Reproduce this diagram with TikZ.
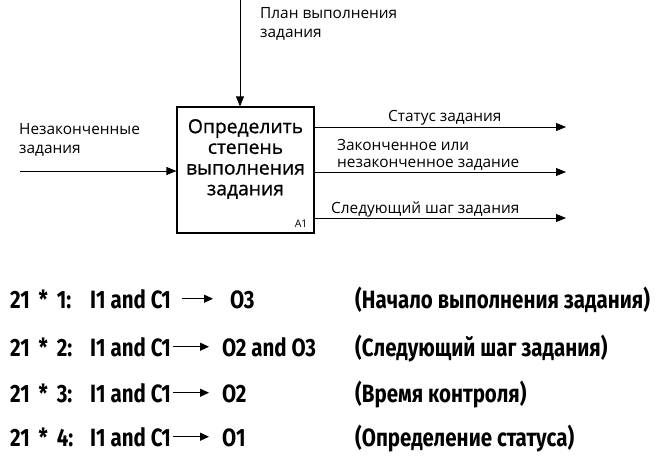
\documentclass[tikz,border=0pt]{standalone}
\usepackage{fontspec}
\setmainfont{Open Sans}
\newfontfamily\boxfont[FakeBold=0.8]{Open Sans}
\newfontfamily\hand[FakeStretch=0.82]{Fira Sans}
\usetikzlibrary{arrows.meta}
\tikzset{
  flow/.style={line width=0.8pt,-{Triangle[length=10pt,width=8pt]}},
  lbl/.style={font=\fontsize{15.4}{18}\selectfont,inner sep=0pt,anchor=base west},
  hrow/.style={font=\hand\bfseries\fontsize{25}{28}\selectfont,inner sep=0pt,anchor=base west},
  harrow/.style={line width=1.2pt,-{Triangle[length=9pt,width=8pt]}},
}
\begin{document}
\begin{tikzpicture}[x=1pt,y=-1pt]
\useasboundingbox (0,0) rectangle (661,455);
% function box
\node[draw,line width=1.2pt,minimum width=137pt,minimum height=126pt,inner sep=0pt] (box) at (245.5,170) {};
\node[font=\boxfont\fontsize{19.3}{20.7}\selectfont,align=center,inner sep=0pt] (boxt) at (245.5,159) {Определить\\степень\\выполнения\\задания};
\node[font=\fontsize{10.5}{12}\selectfont,inner sep=0pt,anchor=south east] (a1) at ([shift={(-7pt,6pt)}]box.south east) {A1};
% control
\coordinate (ctop) at (240,0);
\draw[flow] (ctop) -- (box.north -| ctop);
\node[lbl] (cl) at (260,19) {План выполнения};
\node[lbl] (cl2) at (260,37) {задания};
% input
\coordinate (iin) at (20,171);
\draw[flow] (iin) -- (box.west |- iin);
\node[lbl] (il) at (19,134) {Незаконченные};
\node[lbl] (il2) at (19,153) {задания};
% outputs
\coordinate (o1) at (566,127);
\coordinate (o2) at (566,172);
\coordinate (o3) at (566,218);
\draw[flow] (box.east |- o1) -- (o1);
\draw[flow] (box.east |- o2) -- (o2);
\draw[flow] (box.east |- o3) -- (o3);
\node[lbl] (ol1) at (388,121) {Статус задания};
\node[lbl] (ol2) at (337,150) {Законченное или};
\node[lbl] (ol2b) at (337,167) {незаконченное задание};
\node[lbl] (ol3) at (331,213) {Следующий шаг задания};
% rules
\node[hrow] (r1a) at (10,308) {21\hspace{4pt} *\hspace{4pt} 1:};
\node[hrow] (r1b) at (90,308) {I1 and C1};
\node[hrow] (r1c) at (230,308) {O3};
\node[hrow] (r1d) at (355,308) {(Начало выполнения задания)};
\draw[harrow,shorten <=11pt,shorten >=17pt] (r1b.east) -- (r1c.west |- r1b.east);

\node[hrow] (r2a) at (10,356) {21\hspace{4pt} *\hspace{4pt} 2:};
\node[hrow] (r2b) at (90,356) {I1 and C1};
\node[hrow] (r2c) at (222,356) {O2 and O3};
\node[hrow] (r2d) at (355,356) {(Следующий шаг задания)};
\draw[harrow,shorten <=2pt,shorten >=13pt] (r2b.east) -- (r2c.west |- r2b.east);

\node[hrow] (r3a) at (10,402) {21\hspace{4pt} *\hspace{4pt} 3:};
\node[hrow] (r3b) at (90,402) {I1 and C1};
\node[hrow] (r3c) at (222,402) {O2};
\node[hrow] (r3d) at (355,402) {(Время контроля)};
\draw[harrow,shorten <=2pt,shorten >=13pt] (r3b.east) -- (r3c.west |- r3b.east);

\node[hrow] (r4a) at (10,446) {21\hspace{4pt} *\hspace{4pt} 4:};
\node[hrow] (r4b) at (90,446) {I1 and C1};
\node[hrow] (r4c) at (222,446) {O1};
\node[hrow] (r4d) at (355,446) {(Определение статуса)};
\draw[harrow,shorten <=2pt,shorten >=13pt] (r4b.east) -- (r4c.west |- r4b.east);
\end{tikzpicture}
\end{document}
